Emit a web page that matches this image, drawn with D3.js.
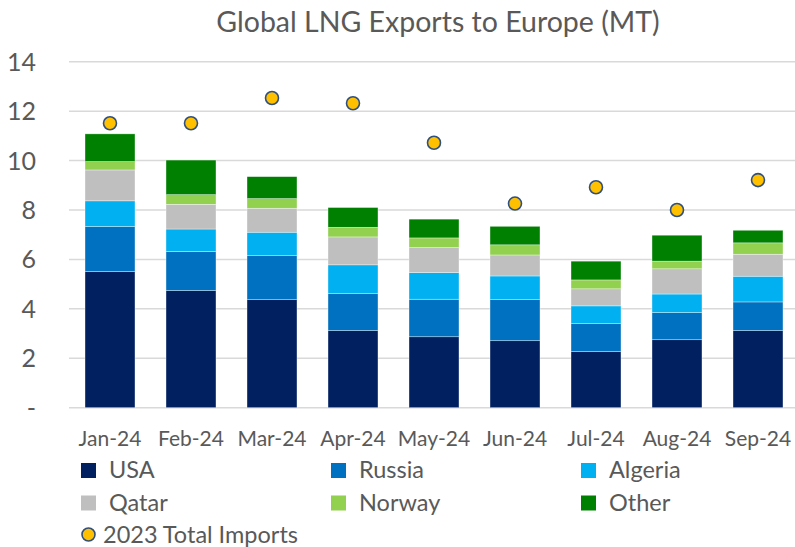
<!DOCTYPE html>
<html><head><meta charset="utf-8">
<script src="https://cdn.jsdelivr.net/npm/d3@7"></script>
<style>
html,body{margin:0;padding:0;background:#fff;}
svg{display:block;font-family:Lato,"Open Sans",sans-serif;}
</style></head>
<body>
<svg id="chart" width="795" height="547"></svg>
<script>
const months = ["Jan-24","Feb-24","Mar-24","Apr-24","May-24","Jun-24","Jul-24","Aug-24","Sep-24"];
const seriesNames = ["USA","Russia","Algeria","Qatar","Norway","Other"];
const usa     = [5.51, 4.74, 4.37, 3.12, 2.87, 2.71, 2.27, 2.75, 3.12];
const russia  = [1.82, 1.58, 1.78, 1.51, 1.52, 1.66, 1.13, 1.10, 1.16];
const algeria = [1.04, 0.91, 0.95, 1.15, 1.08, 0.96, 0.72, 0.75, 1.04];
const qatar   = [1.25, 1.00, 0.97, 1.13, 1.01, 0.85, 0.69, 1.02, 0.89];
const norway  = [0.34, 0.39, 0.39, 0.39, 0.39, 0.41, 0.36, 0.31, 0.46];
const other   = [1.12, 1.40, 0.89, 0.80, 0.76, 0.75, 0.76, 1.05, 0.51];
const imports2023 = [11.51, 11.51, 12.53, 12.32, 10.72, 8.26, 8.92, 8.00, 9.21];
const yTicks = [0, 2, 4, 6, 8, 10, 12, 14];
const colors = ["#002060","#0070C0","#00B0F0","#BFBFBF","#92D050","#008000"];
const dotName = "2023 Total Imports";
const title = "Global LNG Exports to Europe (MT)";

const seriesValues = [usa, russia, algeria, qatar, norway, other];
const table = months.map((m, i) => {
  const row = {month: m};
  seriesNames.forEach((s, j) => row[s] = seriesValues[j][i]);
  return row;
});

const svg = d3.select("#chart");
const textColor = "#595959";

const x = d3.scaleBand().domain(months).range([69.5, 798.5]).paddingInner(0.383).paddingOuter(0.1915);
const y = d3.scaleLinear().domain([0, 14]).range([407.7, 61.7]);

// title
svg.append("text").attr("x", 438).attr("y", 32).attr("text-anchor", "middle")
  .attr("fill", textColor).attr("font-size", 28.5).text(title);

// gridlines
svg.append("g").selectAll("line").data(yTicks).join("line")
  .attr("x1", 69).attr("x2", 795)
  .attr("y1", d => y(d)).attr("y2", d => y(d))
  .attr("stroke", "#D9D9D9").attr("stroke-width", 1.5);

// y labels
svg.append("g").selectAll("text").data(yTicks).join("text")
  .attr("x", 36).attr("y", d => y(d) + 9)
  .attr("text-anchor", "end").attr("fill", textColor).attr("font-size", 25)
  .text(d => d === 0 ? "-" : d);

// stacked bars
const stack = d3.stack().keys(seriesNames)(table);
svg.append("g").selectAll("g").data(stack).join("g")
  .attr("fill", (d, i) => colors[i])
  .selectAll("rect").data(d => d).join("rect")
  .attr("x", d => x(d.data.month))
  .attr("width", x.bandwidth())
  .attr("y", d => y(d[1]))
  .attr("height", d => y(d[0]) - y(d[1]))
  .attr("stroke", "#ffffff").attr("stroke-width", 0.6).attr("stroke-opacity", 0.6);

// dots
svg.append("g").selectAll("circle").data(imports2023).join("circle")
  .attr("cx", (d, i) => x(months[i]) + x.bandwidth() / 2)
  .attr("cy", d => y(d))
  .attr("r", 6.5)
  .attr("fill", "#FFC000").attr("stroke", "#2F4F7F").attr("stroke-width", 1.6);

// x labels
svg.append("g").selectAll("text").data(months).join("text")
  .attr("x", d => x(d) + x.bandwidth() / 2).attr("y", 446)
  .attr("text-anchor", "middle").attr("fill", textColor).attr("font-size", 21)
  .text(d => d);

// legend
const legX = [81, 331, 581];
const legY = [478, 510.5];
const leg = svg.append("g");
seriesNames.forEach((s, i) => {
  const cx = legX[i % 3], by = legY[Math.floor(i / 3)];
  leg.append("rect").attr("x", cx).attr("y", by - 15).attr("width", 15).attr("height", 15).attr("fill", colors[i]);
  leg.append("text").attr("x", cx + 28).attr("y", by).attr("fill", textColor).attr("font-size", 23.5).text(s);
});
leg.append("circle").attr("cx", 88.5).attr("cy", 534.5).attr("r", 6.5)
  .attr("fill", "#FFC000").attr("stroke", "#2F4F7F").attr("stroke-width", 1.6);
leg.append("text").attr("x", 103).attr("y", 543).attr("fill", textColor).attr("font-size", 23.5).text(dotName);
</script>
</body></html>
